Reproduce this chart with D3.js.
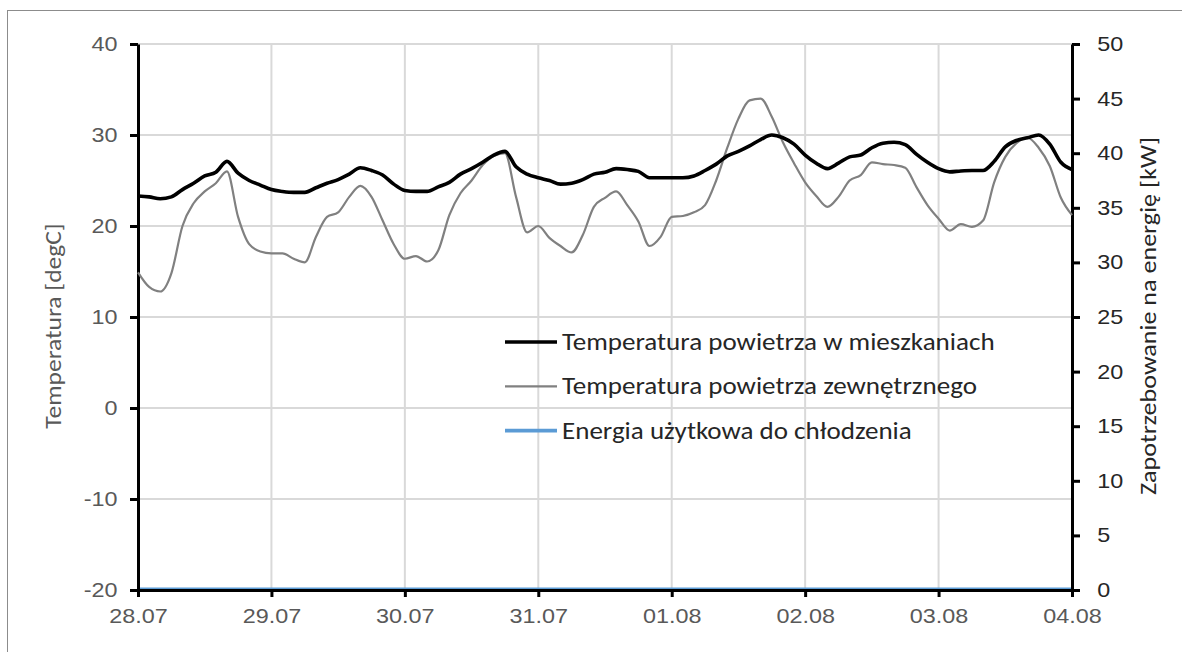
<!DOCTYPE html>
<html>
<head>
<meta charset="utf-8">
<script src="https://cdn.jsdelivr.net/npm/d3@7"></script>
<style>
  html, body { margin: 0; padding: 0; background: #fff; }
  svg { display: block; font-family: Carlito, Lato, "Open Sans", sans-serif; }
</style>
</head>
<body>
<svg id="chart" width="1182" height="652"></svg>
<script>
// ---- data (one sample every 2 hours from 28.07 00:00 to 04.08 00:00) ----
const sampleStepHours = 2;
const dayLabels = ["28.07", "29.07", "30.07", "31.07", "01.08", "02.08", "03.08", "04.08"];
const leftTicks = [-20, -10, 0, 10, 20, 30, 40];
const rightTicks = [0, 5, 10, 15, 20, 25, 30, 35, 40, 45, 50];
const seriesNames = [
  "Temperatura powietrza w mieszkaniach",
  "Temperatura powietrza zewnętrznego",
  "Energia użytkowa do chłodzenia"
];
const indoorTemp = [
  23.3, 23.2, 23.0, 23.2, 24.0, 24.7, 25.5, 25.9, 27.1, 25.8, 25.0, 24.5,
  24.0, 23.8, 23.7, 23.7, 24.2, 24.7, 25.1, 25.7, 26.4, 26.1, 25.6, 24.6,
  23.9, 23.8, 23.8, 24.3, 24.8, 25.7, 26.3, 27.0, 27.8, 28.2, 26.5, 25.7,
  25.3, 25.0, 24.6, 24.7, 25.1, 25.7, 25.9, 26.3, 26.2, 26.0, 25.3, 25.3,
  25.3, 25.3, 25.5, 26.1, 26.8, 27.7, 28.2, 28.8, 29.5, 30.0, 29.7, 29.0,
  27.8, 26.9, 26.3, 26.9, 27.6, 27.8, 28.6, 29.1, 29.2, 28.95, 27.9, 27.0,
  26.3, 25.95, 26.05, 26.1, 26.1, 27.1, 28.7, 29.4, 29.7, 30.0, 29.0, 27.0,
  26.2
];
const outdoorTemp = [
  14.9, 13.3, 12.8, 14.8, 20.0, 22.5, 23.8, 24.7, 26.0, 21.0, 18.0, 17.2,
  17.0, 17.0, 16.4, 16.0, 18.8, 21.0, 21.5, 23.2, 24.4, 23.2, 20.6, 18.0,
  16.4, 16.7, 16.1, 17.3, 21.2, 23.6, 25.0, 26.7, 27.7, 28.0, 23.2, 19.3,
  20.0, 18.7, 17.8, 17.1, 19.0, 22.1, 23.1, 23.8, 22.3, 20.5, 17.8, 18.8,
  21.0, 21.1, 21.5, 22.3, 25.0, 28.6, 31.8, 33.8, 34.0, 32.0, 29.2, 26.9,
  24.8, 23.3, 22.1, 23.2, 25.0, 25.6, 27.0, 26.8, 26.7, 26.4, 24.3, 22.3,
  20.8, 19.5, 20.2, 19.9, 20.6, 24.8, 27.6, 29.1, 29.7, 28.6, 26.6, 23.1,
  21.2
];
const coolingEnergy = [
  0, 0, 0, 0, 0, 0, 0, 0, 0, 0, 0, 0,
  0, 0, 0, 0, 0, 0, 0, 0, 0, 0, 0, 0,
  0, 0, 0, 0, 0, 0, 0, 0, 0, 0, 0, 0,
  0, 0, 0, 0, 0, 0, 0, 0, 0, 0, 0, 0,
  0, 0, 0, 0, 0, 0, 0, 0, 0, 0, 0, 0,
  0, 0, 0, 0, 0, 0, 0, 0, 0, 0, 0, 0,
  0, 0, 0, 0, 0, 0, 0, 0, 0, 0, 0, 0,
  0
];

// ---- layout ----
const svg = d3.select("#chart");
const plot = { left: 138, right: 1072, top: 44, bottom: 590 };
const tickStretch = 1.17;   // reference text is wider than the Calibri-metric font

const x = d3.scaleLinear().domain([0, (dayLabels.length - 1) * 24]).range([plot.left, plot.right]);
const yL = d3.scaleLinear().domain([-20, 40]).range([plot.bottom, plot.top]);
const yR = d3.scaleLinear().domain([0, 50]).range([plot.bottom, plot.top]);

// chart frame
svg.append("rect").attr("x", 7.5).attr("y", 10.5).attr("width", 1200).attr("height", 700)
  .attr("fill", "none").attr("stroke", "#8c8c8c").attr("stroke-width", 1);

// gridlines
const grid = svg.append("g");
grid.selectAll("line.h").data(leftTicks).join("line")
  .attr("x1", plot.left).attr("x2", plot.right)
  .attr("y1", d => yL(d)).attr("y2", d => yL(d))
  .attr("stroke", "#d9d9d9").attr("stroke-width", 2);
grid.selectAll("line.v").data(dayLabels).join("line")
  .attr("x1", (d, i) => x(i * 24)).attr("x2", (d, i) => x(i * 24))
  .attr("y1", plot.top).attr("y2", plot.bottom)
  .attr("stroke", "#d9d9d9").attr("stroke-width", 2);

// cooling energy (right axis)
const lineR = d3.line().x((d, i) => x(i * sampleStepHours)).y(d => yR(d));
svg.append("path").datum(coolingEnergy).attr("d", lineR)
  .attr("fill", "none").attr("stroke", "#5b9bd5").attr("stroke-width", 3).attr("transform", "translate(0,-1)");

// axes
function styleAxis(g, color, size) {
  g.select(".domain").attr("stroke", "#000").attr("stroke-width", 3);
  g.selectAll(".tick line").attr("stroke", "#000").attr("stroke-width", 3);
  g.selectAll(".tick text").attr("fill", color).attr("font-size", size)
    .attr("transform", `scale(${tickStretch},1)`);
}
const plainNumber = d => String(d);
const axL = svg.append("g").attr("transform", `translate(${plot.left},0)`)
  .call(d3.axisLeft(yL).tickValues(leftTicks).tickSize(8).tickSizeOuter(0).tickPadding(9.5).tickFormat(plainNumber));
styleAxis(axL, "#595959", 20);
const axR = svg.append("g").attr("transform", `translate(${plot.right},0)`)
  .call(d3.axisRight(yR).tickValues(rightTicks).tickSize(8).tickSizeOuter(0).tickPadding(13.5).tickFormat(plainNumber));
styleAxis(axR, "#262626", 20);
const axB = svg.append("g").attr("transform", `translate(0,${plot.bottom})`)
  .call(d3.axisBottom(x).tickValues(dayLabels.map((d, i) => i * 24)).tickSize(7).tickSizeOuter(0).tickPadding(12)
    .tickFormat((d, i) => dayLabels[i]));
styleAxis(axB, "#595959", 20);

// axis titles
svg.append("text")
  .attr("transform", `translate(61,${(plot.top + plot.bottom) / 2 + 9}) rotate(-90) scale(1.16,1)`)
  .attr("text-anchor", "middle").attr("fill", "#595959").attr("font-size", 22)
  .text("Temperatura [degC]");
svg.append("text")
  .attr("transform", `translate(1156,${(plot.top + plot.bottom) / 2 - 1}) rotate(-90) scale(1.16,1)`)
  .attr("text-anchor", "middle").attr("fill", "#262626").attr("font-size", 22.5)
  .text("Zapotrzebowanie na energię [kW]");

// temperature series
const lineL = d3.line().x((d, i) => x(i * sampleStepHours)).y(d => yL(d)).curve(d3.curveMonotoneX);
svg.append("path").datum(outdoorTemp).attr("d", lineL)
  .attr("fill", "none").attr("stroke", "#808080").attr("stroke-width", 2.2).attr("stroke-linejoin", "round");
svg.append("path").datum(indoorTemp).attr("d", lineL)
  .attr("fill", "none").attr("stroke", "#000").attr("stroke-width", 3.6).attr("stroke-linejoin", "round");

// legend
const legendStyles = [
  { color: "#000", width: 3.6 },
  { color: "#808080", width: 2.2 },
  { color: "#5b9bd5", width: 3.6 }
];
const legend = svg.append("g").attr("transform", "translate(505,342)");
const items = legend.selectAll("g").data(seriesNames).join("g")
  .attr("transform", (d, i) => `translate(0,${i * 44.3})`);
items.append("line").attr("x1", 0).attr("x2", 52).attr("y1", 0).attr("y2", 0)
  .attr("stroke", (d, i) => legendStyles[i].color).attr("stroke-width", (d, i) => legendStyles[i].width);
items.append("g").attr("transform", "translate(57,8) scale(1.09,1)")
  .append("text").attr("fill", "#262626").attr("font-size", 24.8)
  .text(d => d);
</script>
</body>
</html>
